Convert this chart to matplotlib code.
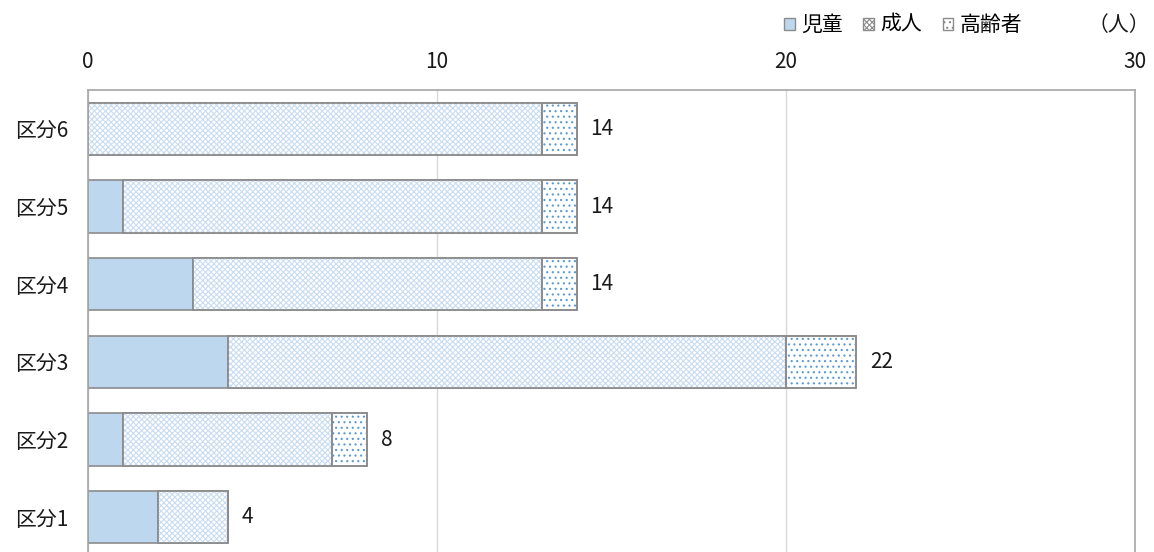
import matplotlib
matplotlib.use("Agg")
import matplotlib.pyplot as plt
from matplotlib.patches import Patch
import numpy as np

plt.rcParams['font.family'] = ['Noto Sans CJK JP', 'DejaVu Sans']
plt.rcParams['hatch.linewidth'] = 0.8

categories = ['区分1', '区分2', '区分3', '区分4', '区分5', '区分6']
children = [2, 1, 4, 3, 1, 0]
adults = [2, 6, 16, 10, 12, 13]
elderly = [0, 1, 2, 1, 1, 1]
series_names = ['児童', '成人', '高齢者']
xticks = [0, 10, 20, 30]

W, H = 1154, 552
FS = 15
TXT = '#1a1a1a'
fig = plt.figure(figsize=(W / 100, H / 100), dpi=100)
ax = fig.add_axes([88 / W, -4 / H, (1135 - 88) / W, (556 - 90) / H])

y = np.arange(len(categories))
c = np.array(children)
a = np.array(adults)
e = np.array(elderly)
edge = '#8c8c8c'
h = 0.67

ax.barh(y, c, height=h, color='#bdd7ee', edgecolor=edge, linewidth=1.2)
ax.barh(y, a, left=c, height=h, color='white', edgecolor=edge, linewidth=1.2)
ax.barh(y, a, left=c, height=h, color='none', edgecolor='#c8dcf2', hatch='xxxxxx', linewidth=0)
ax.barh(y, a, left=c, height=h, color='none', edgecolor=edge, linewidth=1.2)
ax.barh(y, e, left=c + a, height=h, color='white', edgecolor=edge, linewidth=1.2)
ax.barh(y, e, left=c + a, height=h, color='none', edgecolor='#5b9bd5', hatch='...', linewidth=0)
ax.barh(y, e, left=c + a, height=h, color='none', edgecolor=edge, linewidth=1.2)

totals = c + a + e
for yi, t in zip(y, totals):
    ax.text(t + 0.4, yi, str(t), va='center', ha='left', fontsize=FS, color=TXT)

ax.set_xlim(0, 30)
ax.set_ylim(-0.5, 5.5)
ax.set_xticks(xticks)
ax.xaxis.tick_top()
ax.tick_params(axis='x', length=0, pad=12, labelsize=FS, labelcolor=TXT)
ax.set_yticks(y)
ax.set_yticklabels(categories)
ax.tick_params(axis='y', length=0, pad=14, labelsize=FS, labelcolor=TXT)
ax.grid(axis='x', color='#d9d9d9', linewidth=1)
ax.set_axisbelow(True)
for s in ['top', 'right', 'left']:
    ax.spines[s].set_color('#a6a6a6')
    ax.spines[s].set_linewidth(1.2)
ax.spines['bottom'].set_visible(False)

handles = [
    Patch(facecolor='#bdd7ee', edgecolor=edge, label=series_names[0]),
    Patch(facecolor='white', edgecolor=edge, hatch='xxxxxx', label=series_names[1]),
    Patch(facecolor='white', edgecolor=edge, hatch='...', label=series_names[2]),
]
leg = fig.legend(handles=handles, loc='center', bbox_to_anchor=(903 / W, 1 - 25 / H), ncol=3,
                 frameon=False, fontsize=FS, handlelength=0.5, handleheight=0.5,
                 handletextpad=0.3, columnspacing=1.0)
fig.text(1150 / W, 1 - 25 / H, '（人）', ha='right', va='center', fontsize=FS, color=TXT)

fig.savefig('out.png', dpi=100)
